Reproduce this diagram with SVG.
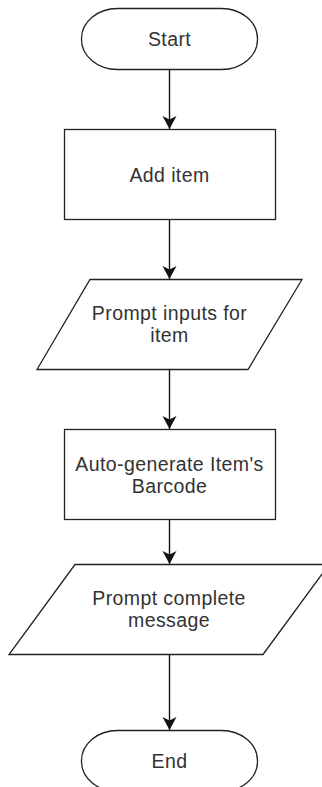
<svg xmlns="http://www.w3.org/2000/svg" width="322" height="787" viewBox="0 0 322 787">
  <defs>
    <!-- filled classic arrowhead with a shallow notch at the back -->
    <marker id="arrow" markerUnits="userSpaceOnUse" markerWidth="15" markerHeight="15" viewBox="0 0 15 15" refX="13" refY="7.5" orient="auto">
      <path d="M0,0.5 L13,7.5 L0,14.5 L3.5,7.5 Z" fill="#111"/>
    </marker>
  </defs>
  <style>
    .shape { fill: #fff; stroke: #222; stroke-width: 1.3; }
    .edge { fill: none; stroke: #111; stroke-width: 1.4; marker-end: url(#arrow); }
    .label { font-family: "Liberation Sans", Arial, sans-serif; font-size: 19.5px; letter-spacing: 0.4px; fill: #333; text-anchor: middle; }
  </style>
  <rect width="322" height="787" fill="#fff"/>

  <!-- connectors -->
  <g id="connectors">
    <line class="edge" x1="169.5" y1="69" x2="169.5" y2="129"/>
    <line class="edge" x1="169.5" y1="219" x2="169.5" y2="279"/>
    <line class="edge" x1="169.5" y1="369" x2="169.5" y2="429"/>
    <line class="edge" x1="169.5" y1="519" x2="169.5" y2="564"/>
    <line class="edge" x1="169.5" y1="654" x2="169.5" y2="730"/>
  </g>

  <g id="start">
    <rect class="shape" x="81.5" y="8.5" width="176" height="61" rx="36" ry="30"/>
    <text class="label" x="169.5" y="46">Start</text>
  </g>

  <g id="add-item">
    <rect class="shape" x="64.5" y="129.5" width="211" height="90"/>
    <text class="label" x="169.5" y="182">Add item</text>
  </g>

  <g id="prompt-inputs">
    <polygon class="shape" points="90,279.5 302,279.5 248,369.5 37,369.5"/>
    <text class="label" x="169.5" y="320">Prompt inputs for</text>
    <text class="label" x="169.5" y="342">item</text>
  </g>

  <g id="auto-generate">
    <rect class="shape" x="64.5" y="429.5" width="211" height="90"/>
    <text class="label" x="169.5" y="471">Auto-generate Item's</text>
    <text class="label" x="169.5" y="493">Barcode</text>
  </g>

  <g id="prompt-complete">
    <polygon class="shape" points="75,564.5 329,564.5 263,654.5 9,654.5"/>
    <text class="label" x="169" y="605">Prompt complete</text>
    <text class="label" x="169" y="627">message</text>
  </g>

  <g id="end">
    <rect class="shape" x="81.5" y="730.5" width="176" height="61" rx="36" ry="30"/>
    <text class="label" x="169.5" y="767.5">End</text>
  </g>
</svg>
